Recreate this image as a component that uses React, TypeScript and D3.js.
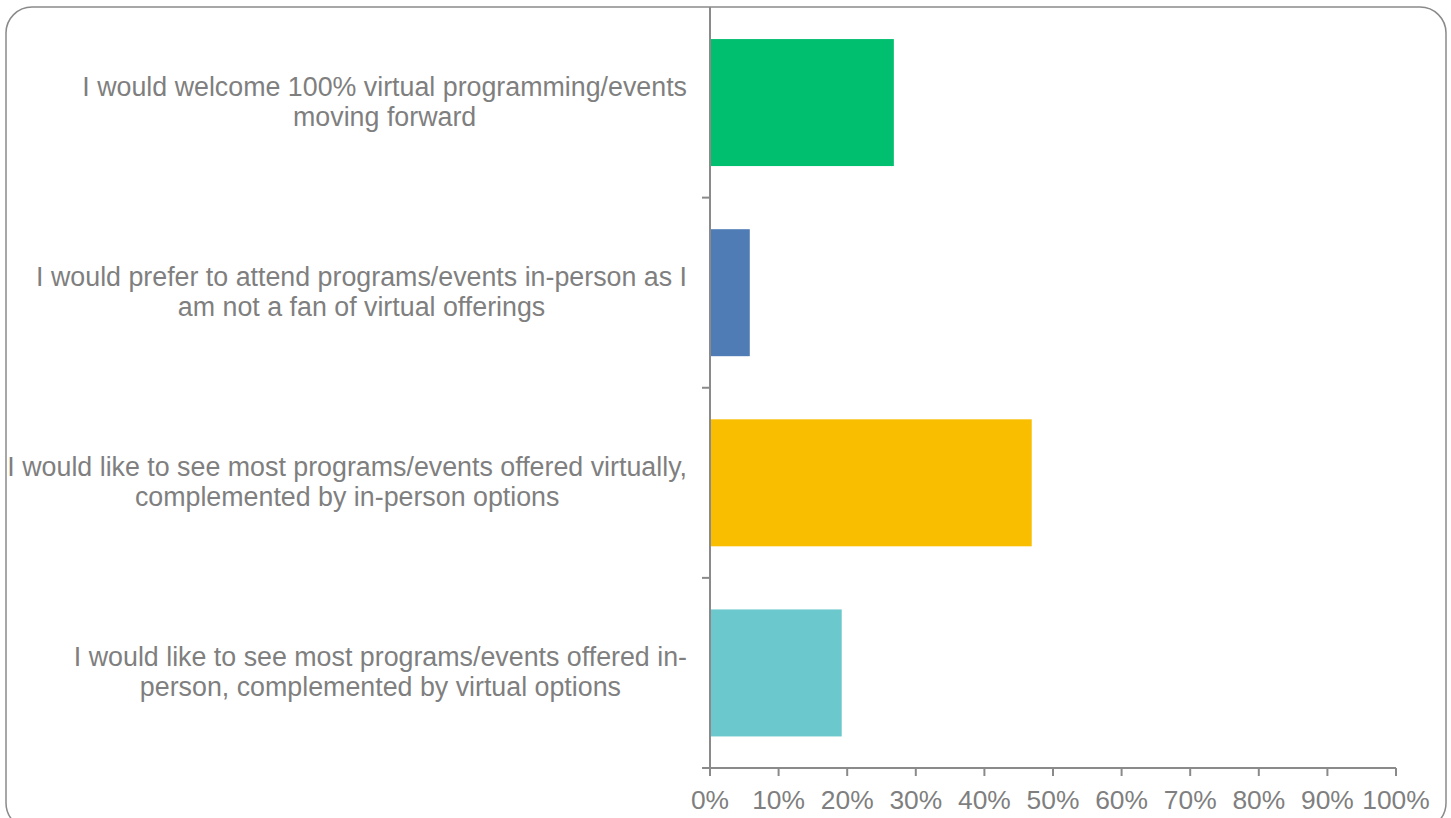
import React from "react";
import * as d3 from "d3";

const categories: string[][] = [
  ["I would welcome 100% virtual programming/events", "moving forward"],
  ["I would prefer to attend programs/events in-person as I", "am not a fan of virtual offerings"],
  ["I would like to see most programs/events offered virtually,", "complemented by in-person options"],
  ["I would like to see most programs/events offered in-", "person, complemented by virtual options"],
];
const values: number[] = [26.8, 5.8, 46.9, 19.2];
const barColors: string[] = ["#00BF6F", "#507CB6", "#F9BE00", "#6BC8CD"];
const xTicks: number[] = [0, 10, 20, 30, 40, 50, 60, 70, 80, 90, 100];

const W = 1451;
const H = 818;
const FONT = "'Liberation Sans', Arial, sans-serif";
const FS = 26.4;
const FS_CAT = 26.8;
const TEXT = "#7f7f7f";
const AX = "#8a8a8a";

let ctx: CanvasRenderingContext2D | null = null;
function measure(t: string): number {
  if (!ctx) ctx = document.createElement("canvas").getContext("2d");
  if (!ctx) return t.length * 13;
  ctx.font = `${FS_CAT}px 'Liberation Sans', Arial, sans-serif`;
  return ctx.measureText(t).width;
}

export default function App() {
  const x = d3.scaleLinear().domain([0, 100]).range([710, 1396]);
  const y = d3
    .scaleBand<number>()
    .domain(d3.range(categories.length))
    .range([7.5, 768])
    .paddingInner(0.332)
    .paddingOuter(0.166);
  const labelRight = 687;
  const bandEdges = d3.range(categories.length + 1).map((i) => 7.5 + (i * (768 - 7.5)) / categories.length);

  return (
    <svg width={W} height={H} style={{ position: "absolute", left: 0, top: 0, background: "#fff" }}>
      <rect x={6} y={7} width={1440} height={822} rx={26} ry={26} fill="none" stroke="#8a8a8a" strokeWidth={1.5} />
      {values.map((v, i) => (
        <rect key={i} x={x(0)} y={y(i)} width={x(v) - x(0)} height={y.bandwidth()} fill={barColors[i]} />
      ))}
      {/* y axis */}
      <line x1={710} x2={710} y1={7} y2={768} stroke={AX} strokeWidth={2} />
      {bandEdges.slice(1).map((e, i) => (
        <line key={i} x1={702} x2={710} y1={e} y2={e} stroke={AX} strokeWidth={2} />
      ))}
      {/* x axis */}
      <line x1={702} x2={x(100)} y1={768} y2={768} stroke={AX} strokeWidth={2} />
      {xTicks.map((t) => (
        <g key={t}>
          <line x1={x(t)} x2={x(t)} y1={768} y2={776} stroke={AX} strokeWidth={2} />
          <text x={x(t)} y={809} textAnchor="middle" fontFamily={FONT} fontSize={FS} fill={TEXT}>
            {t}%
          </text>
        </g>
      ))}
      {categories.map((lines, i) => {
        const wMax = Math.max(...lines.map(measure));
        const cx = labelRight - wMax / 2;
        const cy = (y(i) as number) + y.bandwidth() / 2;
        return (
          <text key={i} textAnchor="middle" fontFamily={FONT} fontSize={FS_CAT} fill={TEXT}>
            {lines.map((l, j) => (
              <tspan key={j} x={cx} y={cy - 6.5 + j * 29.5}>
                {l}
              </tspan>
            ))}
          </text>
        );
      })}
    </svg>
  );
}
